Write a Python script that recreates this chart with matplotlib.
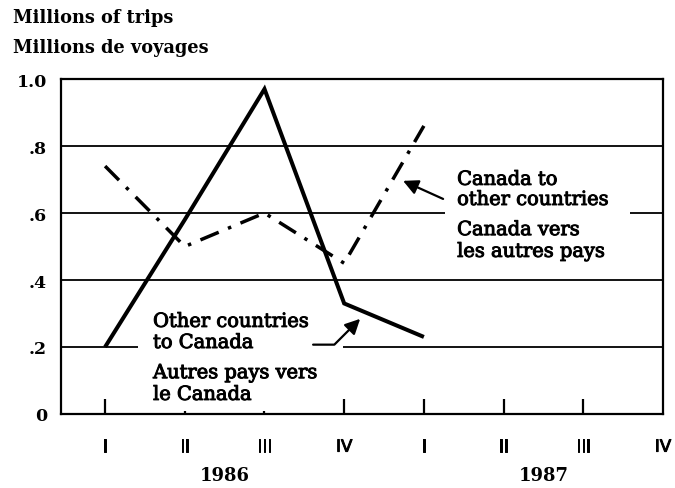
import matplotlib
matplotlib.use('Agg')
import matplotlib.pyplot as plt
import matplotlib.patheffects as pe
from matplotlib.patches import Rectangle
from matplotlib.transforms import blended_transform_factory

# ---- data ----
quarters = ['I', 'II', 'III', 'IV', 'I', 'II', 'III', 'IV']
years = ['1986', '1987']
year_centers = [1.5, 5.5]
other_to_canada = [0.20, 0.58, 0.97, 0.33, 0.23]
canada_to_other = [0.74, 0.50, 0.60, 0.45, 0.86]
yticks = [0, 0.2, 0.4, 0.6, 0.8, 1.0]
ytick_labels = ['0', '.2', '.4', '.6', '.8', '1.0']

SERIF = 'DejaVu Serif'
SANS = 'DejaVu Sans'

fig = plt.figure(figsize=(6.75, 4.89), dpi=100)
ax = fig.add_axes([61/675, 74/489, 602/675, 335/489])
x = list(range(len(quarters)))
ax.set_xlim(-0.553, 7.0)
ax.set_ylim(0, 1.0)

heavy = [pe.withStroke(linewidth=0.7, foreground='black')]

ax.set_xticks(x)
ax.set_xticklabels(quarters, family=SANS, fontsize=12)
for lab in ax.get_xticklabels():
    lab.set_path_effects(heavy)
ax.set_yticks(yticks)
ax.set_yticklabels(ytick_labels, family=SERIF, fontweight='bold', fontsize=12.5)
ax.tick_params(axis='x', direction='in', length=11, width=1.6, pad=17, color='black')
ax.tick_params(axis='y', length=0, pad=10)
for s in ax.spines.values():
    s.set_linewidth(1.6)
ax.grid(axis='y', color='black', linewidth=1.3)
ax.set_axisbelow(True)

ticks = ax.xaxis.get_major_ticks()
for i in (1, 2):
    ticks[i].tick1line.set_markersize(2)
ticks[7].tick1line.set_visible(False)

# gaps in gridlines behind the labels
ax.add_patch(Rectangle((0.638, 0.58), 0.307, 0.04, transform=ax.transAxes,
                       facecolor='white', edgecolor='none', zorder=1.5))
ax.add_patch(Rectangle((0.128, 0.18), 0.34, 0.04, transform=ax.transAxes,
                       facecolor='white', edgecolor='none', zorder=1.5))

n = len(other_to_canada)
ax.plot(x[:n], other_to_canada, color='black', lw=2.9, solid_joinstyle='miter',
        solid_capstyle='butt', zorder=3)
ax.plot(x[:n], canada_to_other, color='black', lw=2.5, dashes=(5.7, 2.9, 1, 2.9),
        dash_capstyle='butt', dash_joinstyle='miter', zorder=3)

# labels & arrows
tk = dict(family=SERIF, fontsize=14, va='baseline', ha='left', zorder=4,
          path_effects=heavy)
ax.text(4.417, 0.684, 'Canada to', **tk)
ax.text(4.417, 0.624, 'other countries', **tk)
ax.text(4.417, 0.534, 'Canada vers', **tk)
ax.text(4.417, 0.469, 'les autres pays', **tk)

ax.text(0.602, 0.260, 'Other countries', **tk)
ax.text(0.602, 0.197, 'to Canada', **tk)
ax.text(0.602, 0.107, 'Autres pays vers', **tk)
ax.text(0.602, 0.042, 'le Canada', **tk)

ax.annotate('', xy=(3.739, 0.696), xytext=(4.241, 0.642),
            arrowprops=dict(arrowstyle='-|>,head_length=0.9,head_width=0.45',
                            color='black', lw=1.6, shrinkA=0, shrinkB=0))
ax.annotate('', xy=(3.20, 0.284), xytext=(2.61, 0.207),
            arrowprops=dict(arrowstyle='-|>,head_length=0.9,head_width=0.45',
                            connectionstyle='angle,angleA=0,angleB=45,rad=0',
                            color='black', lw=1.6, shrinkA=0, shrinkB=0))

# year labels
bt = blended_transform_factory(ax.transData, ax.transAxes)
for xc, yr in zip(year_centers, years):
    ax.text(xc, -0.182, yr, transform=bt, ha='center', va='center',
            family=SERIF, fontweight='bold', fontsize=13)

# titles
fig.text(13/675, 1 - 23/489, 'Millions of trips', family=SERIF, fontweight='bold',
         fontsize=12.8, va='baseline', ha='left')
fig.text(13/675, 1 - 53/489, 'Millions de voyages', family=SERIF, fontweight='bold',
         fontsize=12.8, va='baseline', ha='left')

fig.savefig('out.png', dpi=100)
